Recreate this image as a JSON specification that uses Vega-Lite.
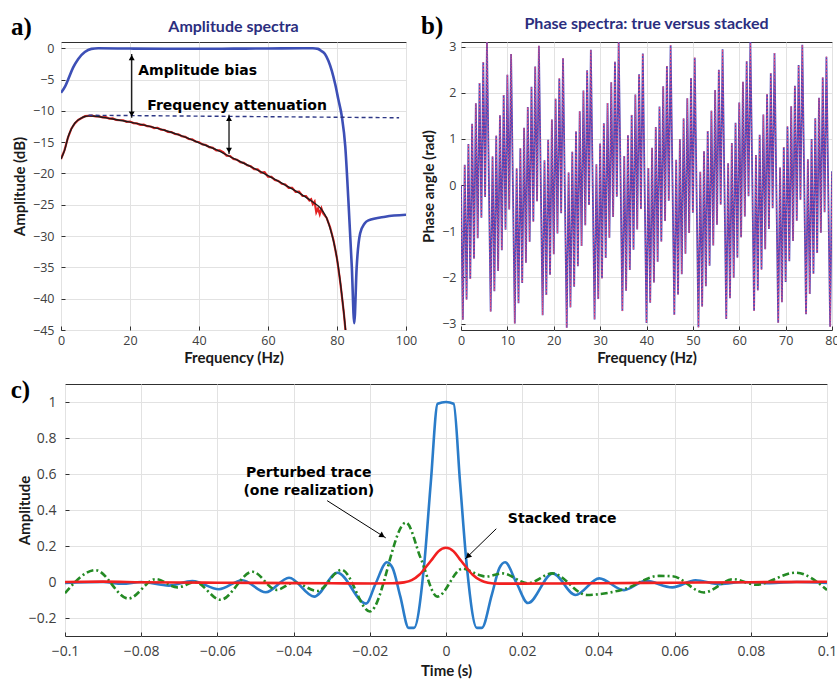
{
"$schema": "https://vega.github.io/schema/vega-lite/v6.json",
"padding": {"left": 9, "top": 13, "right": 0, "bottom": 0},
"background": "white",
"config": {
  "view": {"stroke": "#303030", "strokeWidth": 1},
  "axis": {"domain": false, "grid": true, "gridColor": "#e2e2e2", "gridWidth": 1, "tickColor": "#303030", "tickSize": -4, "tickWidth": 1, "labelFont": "Open Sans", "labelFontSize": 12.5, "labelColor": "#404040", "labelFlush": false, "titleFont": "Lato", "titleFontSize": 15, "titleFontWeight": "bold", "titleColor": "#1a1a1a"}
},
"datasets": {
  "blank": [{"k": 1}],
  "aTrue": [{"x":0,"y":-7.1},{"x":1.2,"y":-6.1},{"x":2.1,"y":-4.95},{"x":3.5,"y":-3.1},{"x":5,"y":-1.7},{"x":6.9,"y":-0.6},{"x":8.8,"y":-0.1},{"x":10.8,"y":0},{"x":20,"y":-0.05},{"x":30,"y":-0.08},{"x":40,"y":-0.08},{"x":50,"y":-0.06},{"x":60,"y":-0.04},{"x":70,"y":0},{"x":73,"y":0},{"x":74.5,"y":-0.1},{"x":75.5,"y":-0.45},{"x":76.5,"y":-0.9},{"x":77.5,"y":-2.0},{"x":78.5,"y":-3.6},{"x":79.5,"y":-5.8},{"x":80.4,"y":-8.2},{"x":81.4,"y":-10.9},{"x":82.4,"y":-15.7},{"x":83.3,"y":-24.3},{"x":84.3,"y":-35},{"x":85,"y":-43.9},{"x":85.7,"y":-35},{"x":86.7,"y":-29.6},{"x":88,"y":-28},{"x":89.1,"y":-27.5},{"x":94,"y":-26.9},{"x":100,"y":-26.6}],
  "aStack": [{"x":0,"y":-17.7},{"x":1.2,"y":-16.0},{"x":2.1,"y":-14.1},{"x":3,"y":-12.9},{"x":4.1,"y":-11.9},{"x":5,"y":-11.45},{"x":6,"y":-11.1},{"x":7,"y":-10.9},{"x":8.1,"y":-10.8},{"x":10,"y":-10.85},{"x":15,"y":-11.3},{"x":20,"y":-11.8},{"x":25,"y":-12.4},{"x":30,"y":-13.1},{"x":35,"y":-14.0},{"x":40,"y":-15.1},{"x":45,"y":-16.2},{"x":50,"y":-17.6},{"x":55,"y":-18.9},{"x":60,"y":-20.35},{"x":65,"y":-21.85},{"x":70,"y":-23.45},{"x":73,"y":-24.55},{"x":75.3,"y":-25.6},{"x":77,"y":-27.1},{"x":78.5,"y":-29.7},{"x":79.5,"y":-32.1},{"x":80.4,"y":-35},{"x":81.4,"y":-39.4},{"x":82.4,"y":-44.5},{"x":83,"y":-48}],
  "aNoisy": [{"x":0,"y":-17.7},{"x":1,"y":-16.3},{"x":2,"y":-14.3},{"x":3,"y":-12.85},{"x":4,"y":-12.0},{"x":5,"y":-11.45},{"x":6,"y":-11.15},{"x":7,"y":-10.85},{"x":8,"y":-10.8},{"x":9,"y":-10.75},{"x":10,"y":-10.9},{"x":11,"y":-10.85},{"x":12,"y":-11.05},{"x":13,"y":-11.0},{"x":14,"y":-11.25},{"x":15,"y":-11.2},{"x":16,"y":-11.45},{"x":17,"y":-11.5},{"x":18,"y":-11.5},{"x":19,"y":-11.75},{"x":20,"y":-11.7},{"x":21,"y":-11.95},{"x":22,"y":-12.0},{"x":23,"y":-12.25},{"x":24,"y":-12.2},{"x":25,"y":-12.45},{"x":26,"y":-12.5},{"x":27,"y":-12.75},{"x":28,"y":-12.7},{"x":29,"y":-13.0},{"x":30,"y":-13.05},{"x":31,"y":-13.35},{"x":32,"y":-13.4},{"x":33,"y":-13.7},{"x":34,"y":-13.75},{"x":35,"y":-14.05},{"x":36,"y":-14.15},{"x":37,"y":-14.5},{"x":38,"y":-14.55},{"x":39,"y":-14.9},{"x":40,"y":-15.0},{"x":41,"y":-15.35},{"x":42,"y":-15.45},{"x":43,"y":-15.8},{"x":44,"y":-15.9},{"x":45,"y":-16.3},{"x":46,"y":-16.3},{"x":47,"y":-16.6},{"x":48,"y":-17.15},{"x":49,"y":-17.2},{"x":50,"y":-17.7},{"x":51,"y":-17.8},{"x":52,"y":-18.2},{"x":53,"y":-18.3},{"x":54,"y":-18.7},{"x":55,"y":-18.85},{"x":56,"y":-19.3},{"x":57,"y":-19.35},{"x":58,"y":-19.85},{"x":59,"y":-19.8},{"x":60,"y":-20.5},{"x":61,"y":-20.55},{"x":62,"y":-21.05},{"x":63,"y":-21.2},{"x":64,"y":-21.65},{"x":65,"y":-21.75},{"x":66,"y":-22.3},{"x":67,"y":-22.3},{"x":68,"y":-22.95},{"x":69,"y":-22.9},{"x":70,"y":-23.6},{"x":71,"y":-23.6},{"x":72,"y":-24.3},{"x":72.5,"y":-24.1},{"x":73,"y":-24.9},{"x":73.5,"y":-24.5},{"x":74,"y":-26.2},{"x":74.5,"y":-25.6},{"x":75,"y":-26.5},{"x":75.5,"y":-25.6},{"x":76,"y":-26.4},{"x":77,"y":-27.1},{"x":78,"y":-28.6},{"x":79,"y":-30.7},{"x":80,"y":-33.6},{"x":81,"y":-37.6},{"x":82,"y":-42.4},{"x":82.7,"y":-46.5}],
  "aDash": [{"x":8,"y":-10.7},{"x":98,"y":-11.1}],
  "aArrows": [{"x":20.5,"y":-0.9,"y2":-11.1},{"x":48.7,"y":-10.6,"y2":-16.9}],
  "aHeadUp": [{"x":20.5,"y":-1.5},{"x":48.7,"y":-11.2}],
  "aHeadDown": [{"x":20.5,"y":-10.5},{"x":48.7,"y":-16.3}],
  "aText": [{"x":22.4,"y":-3.7,"text":"Amplitude bias"},{"x":25.0,"y":-9.15,"text":"Frequency attenuation"}],
  "aLabel": [{"x":-14.5,"y":3.4,"text":"a)"}],
  "aTitle": [{"x":50,"y":3.4,"text":"Amplitude spectra"}],
  "bLabel": [{"x":-8.6,"y":3.45,"text":"b)"}],
  "bTitle": [{"x":40,"y":3.49,"text":"Phase spectra: true versus stacked"}],
  "cLabel": [{"x":-0.11425,"y":1.065,"text":"c)"}],
  "phase": [{"x":0,"y":0},{"x":0.4,"y":-2.92},{"x":0.8,"y":0.44},{"x":1.2,"y":-2.48},{"x":1.6,"y":0.89},{"x":2.0,"y":-2.03},{"x":2.4,"y":1.33},{"x":2.8,"y":-1.59},{"x":3.2,"y":1.77},{"x":3.6,"y":-1.15},{"x":4.0,"y":2.21},{"x":4.4,"y":-0.71},{"x":4.8,"y":2.66},{"x":5.2,"y":-0.26},{"x":5.6,"y":3.10},{"x":6.0,"y":0.18},{"x":6.4,"y":-2.74},{"x":6.8,"y":0.62},{"x":7.2,"y":-2.30},{"x":7.6,"y":1.07},{"x":8.0,"y":-1.86},{"x":8.4,"y":1.51},{"x":8.8,"y":-1.41},{"x":9.2,"y":1.95},{"x":9.6,"y":-0.97},{"x":10.0,"y":2.39},{"x":10.4,"y":-0.53},{"x":10.8,"y":2.84},{"x":11.2,"y":-0.08},{"x":11.6,"y":-3.00},{"x":12.0,"y":0.36},{"x":12.4,"y":-2.56},{"x":12.8,"y":0.80},{"x":13.2,"y":-2.12},{"x":13.6,"y":1.24},{"x":14.0,"y":-1.68},{"x":14.4,"y":1.69},{"x":14.8,"y":-1.23},{"x":15.2,"y":2.13},{"x":15.6,"y":-0.79},{"x":16.0,"y":2.57},{"x":16.4,"y":-0.35},{"x":16.8,"y":3.02},{"x":17.2,"y":0.10},{"x":17.6,"y":-2.82},{"x":18.0,"y":0.54},{"x":18.4,"y":-2.38},{"x":18.8,"y":0.98},{"x":19.2,"y":-1.94},{"x":19.6,"y":1.42},{"x":20.0,"y":-1.50},{"x":20.4,"y":1.87},{"x":20.8,"y":-1.05},{"x":21.2,"y":2.31},{"x":21.6,"y":-0.61},{"x":22.0,"y":2.75},{"x":22.4,"y":-0.17},{"x":22.8,"y":-3.09},{"x":23.2,"y":0.27},{"x":23.6,"y":-2.65},{"x":24.0,"y":0.72},{"x":24.4,"y":-2.20},{"x":24.8,"y":1.16},{"x":25.2,"y":-1.76},{"x":25.6,"y":1.60},{"x":26.0,"y":-1.32},{"x":26.4,"y":2.05},{"x":26.8,"y":-0.87},{"x":27.2,"y":2.49},{"x":27.6,"y":-0.43},{"x":28.0,"y":2.93},{"x":28.4,"y":0.01},{"x":28.8,"y":-2.91},{"x":29.2,"y":0.45},{"x":29.6,"y":-2.47},{"x":30.0,"y":0.90},{"x":30.4,"y":-2.02},{"x":30.8,"y":1.34},{"x":31.2,"y":-1.58},{"x":31.6,"y":1.78},{"x":32.0,"y":-1.14},{"x":32.4,"y":2.23},{"x":32.8,"y":-0.69},{"x":33.2,"y":2.67},{"x":33.6,"y":-0.25},{"x":34.0,"y":3.11},{"x":34.4,"y":0.19},{"x":34.8,"y":-2.73},{"x":35.2,"y":0.63},{"x":35.6,"y":-2.29},{"x":36.0,"y":1.08},{"x":36.4,"y":-1.84},{"x":36.8,"y":1.52},{"x":37.2,"y":-1.40},{"x":37.6,"y":1.96},{"x":38.0,"y":-0.96},{"x":38.4,"y":2.40},{"x":38.8,"y":-0.52},{"x":39.2,"y":2.85},{"x":39.6,"y":-0.07},{"x":40.0,"y":-2.99},{"x":40.4,"y":0.37},{"x":40.8,"y":-2.55},{"x":41.2,"y":0.81},{"x":41.6,"y":-2.11},{"x":42.0,"y":1.26},{"x":42.4,"y":-1.66},{"x":42.8,"y":1.70},{"x":43.2,"y":-1.22},{"x":43.6,"y":2.14},{"x":44.0,"y":-0.78},{"x":44.4,"y":2.58},{"x":44.8,"y":-0.34},{"x":45.2,"y":3.03},{"x":45.6,"y":0.11},{"x":46.0,"y":-2.81},{"x":46.4,"y":0.55},{"x":46.8,"y":-2.37},{"x":47.2,"y":0.99},{"x":47.6,"y":-1.93},{"x":48.0,"y":1.44},{"x":48.4,"y":-1.49},{"x":48.8,"y":1.88},{"x":49.2,"y":-1.04},{"x":49.6,"y":2.32},{"x":50.0,"y":-0.60},{"x":50.4,"y":2.76},{"x":50.8,"y":-0.16},{"x":51.2,"y":-3.08},{"x":51.6,"y":0.29},{"x":52.0,"y":-2.63},{"x":52.4,"y":0.73},{"x":52.8,"y":-2.19},{"x":53.2,"y":1.17},{"x":53.6,"y":-1.75},{"x":54.0,"y":1.61},{"x":54.4,"y":-1.31},{"x":54.8,"y":2.06},{"x":55.2,"y":-0.86},{"x":55.6,"y":2.50},{"x":56.0,"y":-0.42},{"x":56.4,"y":2.94},{"x":56.8,"y":0.02},{"x":57.2,"y":-2.90},{"x":57.6,"y":0.47},{"x":58.0,"y":-2.45},{"x":58.4,"y":0.91},{"x":58.8,"y":-2.01},{"x":59.2,"y":1.35},{"x":59.6,"y":-1.57},{"x":60.0,"y":1.79},{"x":60.4,"y":-1.13},{"x":60.8,"y":2.24},{"x":61.2,"y":-0.68},{"x":61.6,"y":2.68},{"x":62.0,"y":-0.24},{"x":62.4,"y":3.12},{"x":62.8,"y":0.20},{"x":63.2,"y":-2.72},{"x":63.6,"y":0.65},{"x":64.0,"y":-2.28},{"x":64.4,"y":1.09},{"x":64.8,"y":-1.83},{"x":65.2,"y":1.53},{"x":65.6,"y":-1.39},{"x":66.0,"y":1.97},{"x":66.4,"y":-0.95},{"x":66.8,"y":2.42},{"x":67.2,"y":-0.50},{"x":67.6,"y":2.86},{"x":68.0,"y":-0.06},{"x":68.4,"y":-2.98},{"x":68.8,"y":0.38},{"x":69.2,"y":-2.54},{"x":69.6,"y":0.82},{"x":70.0,"y":-2.10},{"x":70.4,"y":1.27},{"x":70.8,"y":-1.65},{"x":71.2,"y":1.71},{"x":71.6,"y":-1.21},{"x":72.0,"y":2.15},{"x":72.4,"y":-0.77},{"x":72.8,"y":2.60},{"x":73.2,"y":-0.32},{"x":73.6,"y":3.04},{"x":74.0,"y":0.12},{"x":74.4,"y":-2.80},{"x":74.8,"y":0.56},{"x":75.2,"y":-2.36},{"x":75.6,"y":1.00},{"x":76.0,"y":-1.92},{"x":76.4,"y":1.45},{"x":76.8,"y":-1.47},{"x":77.2,"y":1.89},{"x":77.6,"y":-1.03},{"x":78.0,"y":2.33},{"x":78.4,"y":-0.59},{"x":78.8,"y":2.78},{"x":79.2,"y":-0.15},{"x":79.6,"y":-3.07},{"x":80.0,"y":0.30}],
  "cTrue": [{"x":-0.1,"y":-0.005},{"x":-0.09,"y":0.0},{"x":-0.085,"y":-0.01},{"x":-0.08,"y":0.0},{"x":-0.0727,"y":-0.02},{"x":-0.0666,"y":0.005},{"x":-0.0596,"y":-0.04},{"x":-0.0535,"y":0.01},{"x":-0.0473,"y":-0.057},{"x":-0.0412,"y":0.024},{"x":-0.0346,"y":-0.081},{"x":-0.0285,"y":0.051},{"x":-0.021,"y":-0.12},{"x":-0.0185,"y":-0.01},{"x":-0.0155,"y":0.11},{"x":-0.014,"y":0.077},{"x":-0.012,"y":-0.08},{"x":-0.0098,"y":-0.255},{"x":-0.0084,"y":-0.255},{"x":-0.0058,"y":0.08},{"x":-0.004,"y":0.55},{"x":-0.0022,"y":0.99},{"x":0,"y":1.0},{"x":0.002,"y":0.99},{"x":0.0037,"y":0.55},{"x":0.0055,"y":0.08},{"x":0.0081,"y":-0.255},{"x":0.0094,"y":-0.255},{"x":0.012,"y":-0.073},{"x":0.014,"y":0.077},{"x":0.0155,"y":0.11},{"x":0.0185,"y":-0.005},{"x":0.0215,"y":-0.117},{"x":0.028,"y":0.048},{"x":0.034,"y":-0.072},{"x":0.0402,"y":0.02},{"x":0.0467,"y":-0.045},{"x":0.0524,"y":0.006},{"x":0.0594,"y":-0.03},{"x":0.0655,"y":0.01},{"x":0.072,"y":-0.012},{"x":0.078,"y":0.0},{"x":0.085,"y":-0.006},{"x":0.092,"y":0.0},{"x":0.1,"y":-0.005}],
  "cPert": [{"x":-0.1,"y":-0.062},{"x":-0.092,"y":0.066},{"x":-0.0834,"y":-0.092},{"x":-0.0762,"y":0.016},{"x":-0.0705,"y":-0.03},{"x":-0.0659,"y":0.0},{"x":-0.0592,"y":-0.099},{"x":-0.0508,"y":0.057},{"x":-0.0445,"y":-0.044},{"x":-0.0398,"y":-0.003},{"x":-0.0338,"y":-0.05},{"x":-0.0274,"y":0.068},{"x":-0.02,"y":-0.164},{"x":-0.0105,"y":0.33},{"x":-0.0066,"y":0.13},{"x":-0.0023,"y":-0.081},{"x":0.0043,"y":0.074},{"x":0.0087,"y":0.039},{"x":0.0104,"y":0.03},{"x":0.0148,"y":0.048},{"x":0.0215,"y":-0.007},{"x":0.0279,"y":0.048},{"x":0.037,"y":-0.072},{"x":0.0467,"y":-0.04},{"x":0.0559,"y":0.034},{"x":0.0594,"y":0.032},{"x":0.0677,"y":-0.058},{"x":0.0754,"y":0.016},{"x":0.0813,"y":-0.015},{"x":0.0918,"y":0.052},{"x":0.1,"y":-0.044}],
  "cStack": [{"x":-0.1,"y":0.0},{"x":-0.09,"y":0.002},{"x":-0.08,"y":-0.001},{"x":-0.07,"y":-0.003},{"x":-0.06,"y":-0.004},{"x":-0.05,"y":-0.005},{"x":-0.04,"y":-0.006},{"x":-0.03,"y":-0.007},{"x":-0.02,"y":-0.008},{"x":-0.014,"y":-0.007},{"x":-0.011,"y":-0.002},{"x":-0.009,"y":0.01},{"x":-0.007,"y":0.04},{"x":-0.005,"y":0.09},{"x":-0.0035,"y":0.13},{"x":-0.002,"y":0.17},{"x":0,"y":0.19},{"x":0.002,"y":0.17},{"x":0.0035,"y":0.13},{"x":0.005,"y":0.09},{"x":0.007,"y":0.04},{"x":0.009,"y":0.01},{"x":0.011,"y":-0.004},{"x":0.014,"y":-0.009},{"x":0.02,"y":-0.009},{"x":0.03,"y":-0.008},{"x":0.04,"y":-0.007},{"x":0.06,"y":-0.004},{"x":0.08,"y":-0.001},{"x":0.1,"y":0.001}],
  "cText": [{"x":-0.036,"y":0.608,"text":"Perturbed trace"},{"x":-0.036,"y":0.507,"text":"(one realization)"},{"x":0.0305,"y":0.351,"text":"Stacked trace"}],
  "cArrows": [{"x":-0.0312,"y":0.452,"x2":-0.0158,"y2":0.245},{"x":0.0132,"y":0.296,"x2":0.005,"y2":0.127}],
  "cHead1": [{"x":-0.0167,"y":0.257}],
  "cHead2": [{"x":0.00575,"y":0.142}]
},
"spacing": 11,
"align": "none",
"vconcat": [
  {
    "spacing": 0,
    "align": "none",
    "hconcat": [
      {"width": 1, "height": 1, "view": {"stroke": null}, "data": {"name": "blank"}, "mark": {"type": "rect", "opacity": 0}},
      {
        "spacing": 2,
        "hconcat": [
          {
            "width": 345, "height": 288,
            "encoding": {
              "x": {"field": "x", "type": "quantitative", "scale": {"domain": [0, 100], "nice": false}, "axis": {"title": "Frequency (Hz)", "values": [0, 20, 40, 60, 80, 100], "labelPadding": 8.5, "titlePadding": 3}},
              "y": {"field": "y", "type": "quantitative", "scale": {"domain": [-45, 1], "nice": false}, "axis": {"title": "Amplitude (dB)", "values": [0, -5, -10, -15, -20, -25, -30, -35, -40, -45], "labelPadding": 11, "titlePadding": 5}}
            },
            "layer": [
              {"data": {"name": "aNoisy"}, "mark": {"type": "line", "color": "#e32222", "strokeWidth": 2.2, "clip": true}, "encoding": {}},
              {"data": {"name": "aStack"}, "mark": {"type": "line", "color": "#1c1c1c", "strokeWidth": 1.4, "interpolate": "monotone", "clip": true}, "encoding": {}},
              {"data": {"name": "aTrue"}, "mark": {"type": "line", "color": "#3d4fb6", "strokeWidth": 2.6, "interpolate": "monotone", "clip": true}, "encoding": {}},
              {"data": {"name": "aDash"}, "mark": {"type": "line", "color": "#2d3785", "strokeWidth": 1.4, "strokeDash": [4, 3]}, "encoding": {}},
              {"data": {"name": "aArrows"}, "mark": {"type": "rule", "color": "#000000", "strokeWidth": 1.2}, "encoding": {"y2": {"field": "y2"}}},
              {"data": {"name": "aHeadUp"}, "mark": {"type": "point", "shape": "triangle-up", "filled": true, "color": "#000000", "size": 35, "opacity": 1}},
              {"data": {"name": "aHeadDown"}, "mark": {"type": "point", "shape": "triangle-down", "filled": true, "color": "#000000", "size": 35, "opacity": 1}},
              {"data": {"name": "aText"}, "mark": {"type": "text", "align": "left", "baseline": "middle", "font": "DejaVu Sans", "fontWeight": "bold", "fontSize": 14, "color": "#000000"}, "encoding": {"text": {"field": "text"}}},
              {"data": {"name": "aTitle"}, "mark": {"type": "text", "align": "center", "baseline": "middle", "font": "Lato", "fontWeight": "bold", "fontSize": 16, "color": "#2b2e7e"}, "encoding": {"text": {"field": "text"}}},
              {"data": {"name": "aLabel"}, "mark": {"type": "text", "align": "left", "baseline": "middle", "font": "Liberation Serif", "fontWeight": "bold", "fontSize": 25, "color": "#000000"}, "encoding": {"text": {"field": "text"}}}
            ]
          },
          {
            "width": 371, "height": 288,
            "encoding": {
              "x": {"field": "x", "type": "quantitative", "scale": {"domain": [0, 80], "nice": false}, "axis": {"title": "Frequency (Hz)", "values": [0, 10, 20, 30, 40, 50, 60, 70, 80], "labelPadding": 8.5, "titlePadding": 3}},
              "y": {"field": "y", "type": "quantitative", "scale": {"domain": [-3.14, 3.1], "nice": false, "zero": false}, "axis": {"title": "Phase angle (rad)", "values": [-3, -2, -1, 0, 1, 2, 3], "labelPadding": 9, "titlePadding": 5}}
            },
            "layer": [
              {"data": {"name": "phase"}, "mark": {"type": "line", "color": "#4b46b8", "strokeWidth": 1.8, "clip": true}, "encoding": {}},
              {"data": {"name": "phase"}, "mark": {"type": "line", "color": "#f4507a", "strokeWidth": 1, "strokeDash": [1.5, 2], "clip": true}, "encoding": {}},
              {"data": {"name": "bTitle"}, "mark": {"type": "text", "align": "center", "baseline": "middle", "font": "Lato", "fontWeight": "bold", "fontSize": 16, "color": "#2b2e7e"}, "encoding": {"text": {"field": "text"}}},
              {"data": {"name": "bLabel"}, "mark": {"type": "text", "align": "left", "baseline": "middle", "font": "Liberation Serif", "fontWeight": "bold", "fontSize": 25, "color": "#000000"}, "encoding": {"text": {"field": "text"}}}
            ]
          }
        ]
      }
    ]
  },
  {
    "spacing": 0,
    "align": "none",
    "hconcat": [
      {"width": 1, "height": 1, "view": {"stroke": null}, "data": {"name": "blank"}, "mark": {"type": "rect", "opacity": 0}},
      {
        "width": 762, "height": 252,
        "encoding": {
          "x": {"field": "x", "type": "quantitative", "scale": {"domain": [-0.1, 0.1], "nice": false}, "axis": {"title": "Time (s)", "values": [-0.1, -0.08, -0.06, -0.04, -0.02, 0, 0.02, 0.04, 0.06, 0.08, 0.1], "format": "~g", "labelFontSize": 14, "labelPadding": 12, "titlePadding": 5}},
          "y": {"field": "y", "type": "quantitative", "scale": {"domain": [-0.3, 1.1], "nice": false}, "axis": {"title": "Amplitude", "values": [-0.2, 0, 0.2, 0.4, 0.6, 0.8, 1], "format": "~g", "labelFontSize": 14, "labelPadding": 13, "titlePadding": -4}}
        },
        "layer": [
          {"data": {"name": "cTrue"}, "mark": {"type": "line", "color": "#2a7cc9", "strokeWidth": 2.6, "interpolate": "monotone", "clip": true}, "encoding": {}},
          {"data": {"name": "cPert"}, "mark": {"type": "line", "color": "#248a24", "strokeWidth": 2.6, "strokeDash": [7, 3, 2, 3], "interpolate": "monotone", "clip": true}, "encoding": {}},
          {"data": {"name": "cStack"}, "mark": {"type": "line", "color": "#f22020", "strokeWidth": 2.6, "interpolate": "monotone", "clip": true}, "encoding": {}},
          {"data": {"name": "cArrows"}, "mark": {"type": "rule", "color": "#000000", "strokeWidth": 1}, "encoding": {"x2": {"field": "x2"}, "y2": {"field": "y2"}}},
          {"data": {"name": "cHead1"}, "mark": {"type": "point", "shape": "triangle-up", "filled": true, "color": "#000000", "size": 40, "opacity": 1, "angle": 122.5}},
          {"data": {"name": "cHead2"}, "mark": {"type": "point", "shape": "triangle-up", "filled": true, "color": "#000000", "size": 40, "opacity": 1, "angle": 225.6}},
          {"data": {"name": "cText"}, "mark": {"type": "text", "align": "center", "baseline": "middle", "font": "DejaVu Sans", "fontWeight": "bold", "fontSize": 14, "color": "#000000"}, "encoding": {"text": {"field": "text"}}},
          {"data": {"name": "cLabel"}, "mark": {"type": "text", "align": "left", "baseline": "middle", "font": "Liberation Serif", "fontWeight": "bold", "fontSize": 25, "color": "#000000"}, "encoding": {"text": {"field": "text"}}}
        ]
      }
    ]
  }
]
}
